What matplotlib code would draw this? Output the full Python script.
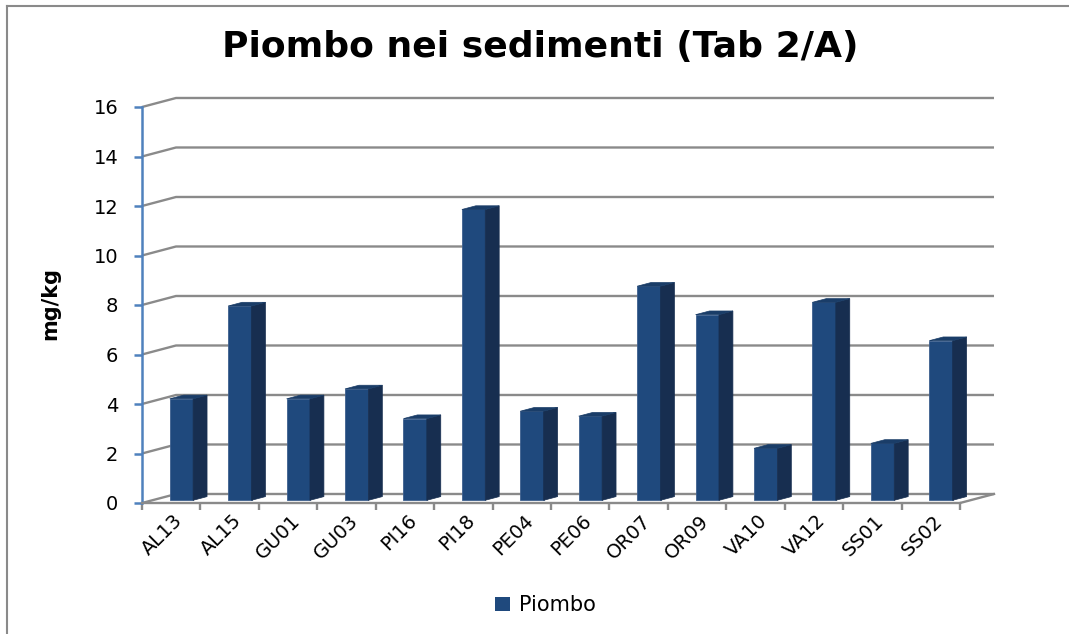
import numpy as np
import matplotlib.pyplot as plt
from matplotlib.patches import Polygon, Patch
from matplotlib.lines import Line2D

# Lead in sediments, mg/kg per station
stations = ["AL13", "AL15", "GU01", "GU03", "PI16", "PI18", "PE04",
            "PE06", "OR07", "OR09", "VA10", "VA12", "SS01", "SS02"]
piombo = [4.1, 7.85, 4.1, 4.5, 3.3, 11.75, 3.6,
          3.4, 8.65, 7.5, 2.1, 8.0, 2.3, 6.45]
yticks = [0, 2, 4, 6, 8, 10, 12, 14, 16]

front = "#1F497D"
side = "#172E50"
top = "#1A3D68"
grid = "#8A8A8A"

# fake 3d depth, in data units (categories, mg/kg)
DX, DY = 0.582, 0.364
f1, f2 = 0.3, 0.71
w = 0.4

fig = plt.figure(figsize=(10.69, 6.34), dpi=100)
ax = fig.add_axes([142/1069, 1 - 503/634, (960 - 142)/1069, (503 - 107)/634])
ax.set_xlim(0, 14)
ax.set_ylim(0, 16)

# back wall gridlines with the slanted side wall part
for t in yticks:
    ax.plot([0, DX, 14 + DX], [t, t + DY, t + DY], color=grid, lw=1.7,
            clip_on=False, zorder=1, solid_capstyle="butt")
# floor front edge going back on the right
ax.plot([14, 14 + DX], [0, DY], color=grid, lw=1.7, clip_on=False, zorder=1)

x = np.arange(len(stations)) + 0.5
bars = ax.bar(x + f1*DX, piombo, width=w, bottom=f1*DY, color=front,
              edgecolor="#3D5F8E", linewidth=0.6, zorder=3, label="Piombo")
for xi, v in zip(x, piombo):
    xl, xr = xi - w/2, xi + w/2
    ax.add_patch(Polygon([(xr + f1*DX, f1*DY), (xr + f2*DX, f2*DY),
                          (xr + f2*DX, v + f2*DY), (xr + f1*DX, v + f1*DY)],
                         closed=True, facecolor=side, edgecolor=side,
                         lw=0.5, zorder=3, clip_on=False))
    ax.add_patch(Polygon([(xl + f1*DX, v + f1*DY), (xr + f1*DX, v + f1*DY),
                          (xr + f2*DX, v + f2*DY), (xl + f2*DX, v + f2*DY)],
                         closed=True, facecolor=top, edgecolor=top,
                         lw=0.5, zorder=3, clip_on=False))

for s in ["top", "right"]:
    ax.spines[s].set_visible(False)
ax.spines["left"].set_color("#4F81BD")
ax.spines["left"].set_linewidth(1.8)
ax.spines["bottom"].set_color(grid)
ax.spines["bottom"].set_linewidth(1.7)

ax.set_yticks(yticks)
ax.tick_params(axis="y", direction="out", length=6, width=1.8,
               color="#4F81BD", pad=11, labelsize=14)
ax.set_xticks(range(len(stations) + 1))
ax.set_xticklabels([])
ax.tick_params(axis="x", direction="out", length=5, width=1.7, color=grid)

for xi, name in zip(x, stations):
    ax.text(xi + 0.15, -0.6, name, rotation=45, ha="right", va="center",
            rotation_mode="anchor", fontsize=14)

fig.text(540/1069, 1 - 47/634, "Piombo nei sedimenti (Tab 2/A)",
         ha="center", va="center", fontsize=26, fontweight="bold")
fig.text(50/1069, 1 - 303/634, "mg/kg", rotation=90, ha="center",
         va="center", fontsize=15, fontweight="bold")

fig.legend(handles=[Patch(facecolor=front, label="Piombo")],
           loc="center", bbox_to_anchor=(545/1069, 1 - 605/634),
           frameon=False, fontsize=15, handlelength=0.75, handleheight=0.65,
           handletextpad=0.4)

# chart frame (top and left edges)
fig.add_artist(Line2D([7/1069, 1], [1 - 6/634, 1 - 6/634],
                      transform=fig.transFigure, color=grid, lw=1.5))
fig.add_artist(Line2D([7/1069, 7/1069], [0, 1 - 6/634],
                      transform=fig.transFigure, color=grid, lw=1.5))

fig.savefig("out.png", dpi=100)
